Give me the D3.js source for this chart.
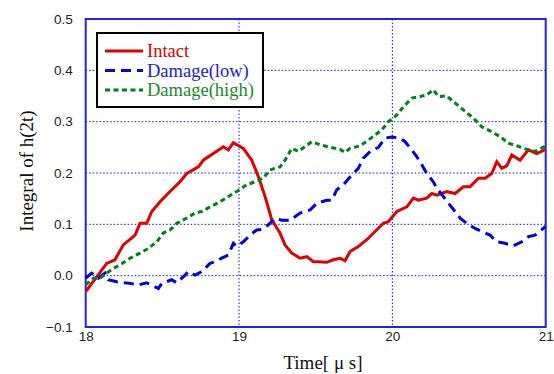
<!DOCTYPE html>
<html>
<head>
<meta charset="utf-8">
<script src="https://cdn.jsdelivr.net/npm/d3@7"></script>
<style>
  body { margin: 0; background: #fff; }
  svg { display: block; }
</style>
</head>
<body>
<svg width="554" height="374"></svg>
<script>
const svg = d3.select("svg");

// data: [time in us, integral value]
const intact = [
  [18.0,-0.031],[18.137,0.024],[18.191,0.031],[18.245,0.060],[18.322,0.079],[18.354,0.102],
  [18.398,0.102],[18.431,0.125],[18.485,0.144],[18.550,0.164],[18.615,0.183],[18.659,0.199],
  [18.735,0.212],[18.767,0.225],[18.832,0.238],[18.898,0.251],[18.930,0.245],[18.963,0.259],
  [19.028,0.248],[19.083,0.225],[19.126,0.193],[19.170,0.154],[19.213,0.109],[19.267,0.083],
  [19.300,0.060],[19.344,0.044],[19.398,0.034],[19.442,0.037],[19.485,0.027],[19.517,0.027],
  [19.572,0.026],[19.615,0.031],[19.659,0.034],[19.691,0.029],[19.724,0.047],[19.778,0.057],
  [19.833,0.070],[19.887,0.086],[19.941,0.102],[19.974,0.105],[20.029,0.125],[20.094,0.134],
  [20.137,0.151],[20.170,0.147],[20.224,0.151],[20.257,0.160],[20.290,0.157],[20.355,0.164],
  [20.409,0.160],[20.463,0.173],[20.507,0.173],[20.561,0.190],[20.605,0.190],[20.648,0.199],
  [20.681,0.222],[20.714,0.209],[20.746,0.214],[20.779,0.235],[20.833,0.225],[20.887,0.245],
  [20.942,0.238],[21.0,0.246]
];
const damageLow = [
  [18.0,-0.005],[18.039,0.005],[18.082,-0.005],[18.126,0.005],[18.147,-0.008],[18.202,-0.012],
  [18.289,-0.015],[18.343,-0.018],[18.398,-0.014],[18.474,-0.025],[18.496,-0.015],[18.561,-0.008],
  [18.594,-0.014],[18.648,0.001],[18.669,0.008],[18.713,0.001],[18.757,0.008],[18.811,0.024],
  [18.843,0.027],[18.887,0.034],[18.930,0.040],[18.963,0.063],[18.985,0.057],[19.028,0.066],
  [19.072,0.079],[19.115,0.089],[19.148,0.090],[19.191,0.099],[19.235,0.112],[19.279,0.108],
  [19.333,0.108],[19.398,0.122],[19.463,0.128],[19.507,0.141],[19.572,0.147],[19.605,0.147],
  [19.637,0.167],[19.680,0.177],[19.735,0.196],[19.778,0.209],[19.811,0.229],[19.855,0.242],
  [19.909,0.250],[19.952,0.268],[19.996,0.270],[20.050,0.268],[20.083,0.261],[20.127,0.245],
  [20.159,0.232],[20.192,0.216],[20.224,0.199],[20.267,0.183],[20.290,0.170],[20.333,0.154],
  [20.366,0.141],[20.409,0.125],[20.442,0.112],[20.485,0.102],[20.539,0.092],[20.583,0.086],
  [20.637,0.079],[20.681,0.066],[20.735,0.063],[20.789,0.058],[20.844,0.066],[20.887,0.076],
  [20.931,0.079],[21.0,0.096]
];
const damageHigh = [
  [18.0,-0.018],[18.050,-0.005],[18.093,-0.005],[18.137,0.005],[18.180,0.014],[18.224,0.021],
  [18.289,0.034],[18.354,0.044],[18.408,0.053],[18.463,0.066],[18.506,0.083],[18.550,0.089],
  [18.594,0.102],[18.659,0.112],[18.713,0.122],[18.757,0.125],[18.811,0.134],[18.876,0.144],
  [18.930,0.154],[18.985,0.164],[19.050,0.177],[19.104,0.183],[19.159,0.190],[19.202,0.206],
  [19.267,0.212],[19.300,0.225],[19.344,0.248],[19.387,0.242],[19.474,0.261],[19.528,0.255],
  [19.583,0.251],[19.659,0.246],[19.691,0.240],[19.724,0.248],[19.789,0.253],[19.843,0.264],
  [19.887,0.274],[19.931,0.284],[19.974,0.300],[20.029,0.313],[20.072,0.329],[20.127,0.346],
  [20.181,0.349],[20.224,0.352],[20.267,0.362],[20.300,0.349],[20.355,0.350],[20.398,0.339],
  [20.463,0.323],[20.528,0.307],[20.583,0.290],[20.637,0.282],[20.702,0.271],[20.757,0.258],
  [20.811,0.253],[20.877,0.246],[20.931,0.242],[21.0,0.253]
];
const seriesNames = ["Intact", "Damage(low)", "Damage(high)"];
const xTicks = [18, 19, 20, 21];
const yTicks = [-0.1, 0.0, 0.1, 0.2, 0.3, 0.4, 0.5];

const plotLeft = 85.7, plotRight = 545.7, plotTop = 19, plotBottom = 327;

const x = d3.scaleLinear().domain([18, 21]).range([plotLeft, plotRight]);
const y = d3.scaleLinear().domain([-0.1, 0.5]).range([plotBottom, plotTop]);

// grid
svg.append("g")
  .selectAll("line")
  .data(xTicks.slice(1, -1))
  .join("line")
  .attr("x1", d => x(d)).attr("x2", d => x(d))
  .attr("y1", plotTop).attr("y2", plotBottom)
  .attr("stroke", "#1010ee").attr("stroke-width", 1)
  .attr("stroke-dasharray", "1.5,2");

svg.append("g")
  .selectAll("line")
  .data(yTicks.slice(1, -1))
  .join("line")
  .attr("x1", plotLeft).attr("x2", plotRight)
  .attr("y1", d => y(d)).attr("y2", d => y(d))
  .attr("stroke", "#1010ee").attr("stroke-width", 1)
  .attr("stroke-dasharray", "1.5,2");

// axes (labels only, frame drawn separately)
const fmt = d3.format(".1f");
const yAxis = svg.append("g")
  .attr("transform", `translate(${plotLeft},0)`)
  .call(d3.axisLeft(y).tickValues(yTicks).tickFormat(d => fmt(d).replace("-", "\u2212")).tickSize(0).tickPadding(13));
const xAxis = svg.append("g")
  .attr("transform", `translate(0,${plotBottom})`)
  .call(d3.axisBottom(x).tickValues(xTicks).tickFormat(d3.format("d")).tickSize(0).tickPadding(4));
[yAxis, xAxis].forEach(a => {
  a.select(".domain").remove();
  a.selectAll("text")
    .attr("font-family", "Liberation Sans, Arial, sans-serif")
    .attr("font-size", 13.5)
    .attr("fill", "#222");
});

// frame
svg.append("rect")
  .attr("x", plotLeft).attr("y", plotTop)
  .attr("width", plotRight - plotLeft).attr("height", plotBottom - plotTop)
  .attr("fill", "none")
  .attr("stroke", "#2222ee").attr("stroke-width", 2);

// lines
const line = d3.line().x(d => x(d[0])).y(d => y(d[1]));
const styles = [
  { data: intact, color: "#e00000", text: "#e00000", dash: null },
  { data: damageLow, color: "#0000dd", text: "#2020cc", dash: "10,6" },
  { data: damageHigh, color: "#00801a", text: "#1a8a2a", dash: "5,3.5" }
];
svg.append("g").selectAll("path")
  .data(styles)
  .join("path")
  .attr("d", d => line(d.data))
  .attr("fill", "none")
  .attr("stroke", d => d.color)
  .attr("stroke-width", 3)
  .attr("stroke-dasharray", d => d.dash);

// legend
const legend = svg.append("g");
legend.append("rect")
  .attr("x", 97).attr("y", 33).attr("width", 166).attr("height", 74)
  .attr("fill", "#fff").attr("stroke", "#000").attr("stroke-width", 2);
const rows = legend.selectAll("g.row")
  .data(styles)
  .join("g")
  .attr("class", "row")
  .attr("transform", (d, i) => `translate(105,${51 + i * 19.5})`);
rows.append("line")
  .attr("x1", 0).attr("x2", 38)
  .attr("stroke", d => d.color).attr("stroke-width", 3)
  .attr("stroke-dasharray", d => d.dash);
rows.append("text")
  .attr("x", 42).attr("y", 6)
  .attr("font-family", "Liberation Serif, Times New Roman, serif")
  .attr("font-size", 18.5)
  .attr("fill", d => d.text)
  .text((d, i) => seriesNames[i]);

// axis titles
svg.append("text")
  .attr("transform", `translate(33,171) rotate(-90)`)
  .attr("text-anchor", "middle")
  .attr("font-family", "Liberation Serif, Times New Roman, serif")
  .attr("font-size", 19)
  .attr("fill", "#111")
  .text("Integral of h(2t)");
svg.append("text")
  .attr("x", 323).attr("y", 369)
  .attr("text-anchor", "middle")
  .attr("font-family", "Liberation Serif, Times New Roman, serif")
  .attr("font-size", 19)
  .attr("fill", "#111")
  .text("Time[ \u03bc s]");
</script>
</body>
</html>
